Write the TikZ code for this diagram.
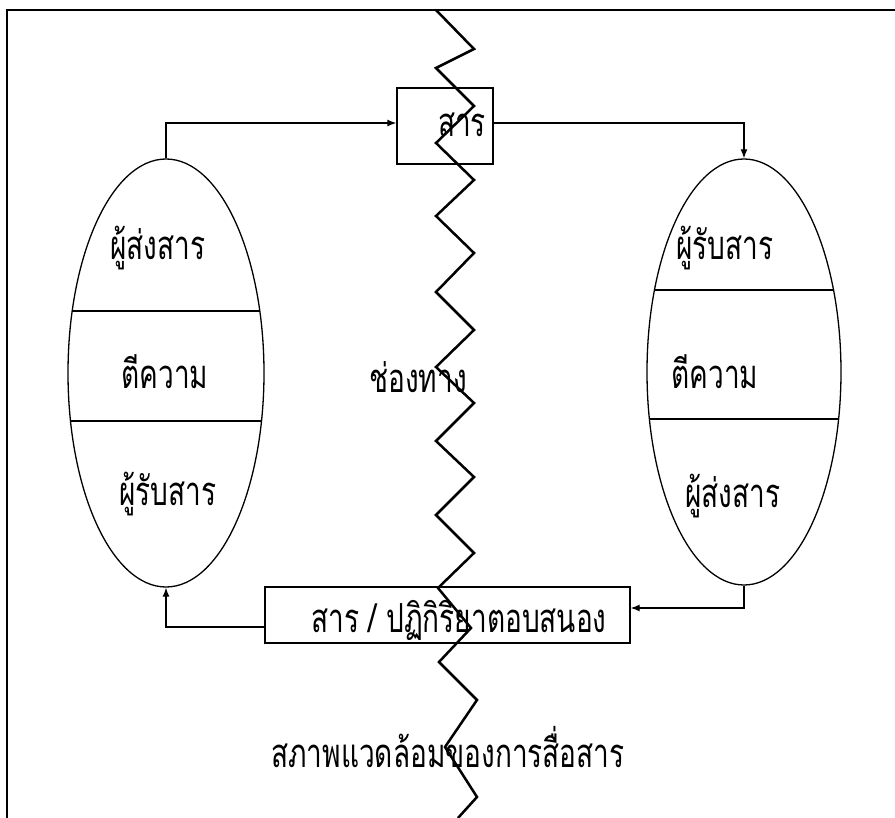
\documentclass[tikz,border=0pt]{standalone}
\usepackage{fontspec}
\newfontfamily\thai[Script=Thai,FakeStretch=0.7]{Loma}
\usetikzlibrary{shapes.geometric,arrows.meta}
\begin{document}
\begin{tikzpicture}[x=1pt,y=-1pt,
  thin line/.style={line width=1.3pt},
  boxnode/.style={draw,thin line,rectangle,inner sep=0pt},
  oval/.style={draw,thin line,ellipse,inner sep=0pt},
  txt/.style={font=\thai\fontsize{40}{46}\selectfont,inner sep=0pt},
  arr/.style={thin line,-{Latex[length=9pt,width=7pt]}},
  zig/.style={line width=2.5pt,line join=miter}]
\useasboundingbox (0,0) rectangle (895,818);
\fill[white] (0,0) rectangle (895,818);
% frame
\coordinate (f1) at (7,818);
\coordinate (f2) at (7,10);
\coordinate (f3) at (895,10);
\draw[line width=1.5pt] (f1) -- (f2) -- (f3);
% ellipses
\node[oval,minimum width=196pt,minimum height=428pt] (LE) at (166,373) {};
\node[oval,minimum width=194pt,minimum height=426pt] (RE) at (744,372) {};
\begin{scope}
\clip (166,373) ellipse [x radius=98pt, y radius=214pt];
\draw[thin line] (40,311) -- (300,311);
\draw[thin line] (40,421) -- (300,421);
\end{scope}
\begin{scope}
\clip (744,372) ellipse [x radius=97pt, y radius=213pt];
\draw[thin line] (620,290) -- (880,290);
\draw[thin line] (620,419) -- (880,419);
\end{scope}
\node[txt] (l1) at (158,248) {ผู้ส่งสาร};
\node[txt] (l2) at (165,372) {ตีความ};
\node[txt] (l3) at (168,494) {ผู้รับสาร};
\node[txt] (r1) at (725,248) {ผู้รับสาร};
\node[txt] (r2) at (715,372) {ตีความ};
\node[txt] (r3) at (733,496) {ผู้ส่งสาร};
% boxes
\node[boxnode,minimum width=96pt,minimum height=76pt] (msg) at (445,126) {};
\node[txt] (msgt) at (462,125) {สาร};
\node[boxnode,minimum width=365pt,minimum height=56pt] (reply) at (447.5,615) {};
\node[txt] (replyt) at (459,620) {สาร / ปฏิกิริยาตอบสนอง};
\node[txt] (chan) at (418,377) {ช่องทาง};
\node[txt] (env) at (448,747) {สภาพแวดล้อมของการสื่อสาร};
% connectors
\draw[arr] (LE.north) |- ([yshift=3pt]msg.west);
\draw[arr] ([yshift=3pt]msg.east) -| (RE.north);
\draw[arr] (RE.south) |- ([yshift=7pt]reply.east);
\draw[arr] ([yshift=-12pt]reply.west) -| (LE.south);
% zigzag channel
\draw[zig] (436,10) -- (474,49) -- (436,68) -- (474,106) -- (436,143) -- (474,180)
  -- (436,216) -- (474,253) -- (436,292) -- (474,330) -- (436,367) -- (474,403)
  -- (436,441) -- (474,477) -- (436,515) -- (474,553) -- (438,588) -- (471,628)
  -- (439,662) -- (477,700) -- (445,747) -- (477,797) -- (458,818);
\end{tikzpicture}
\end{document}
